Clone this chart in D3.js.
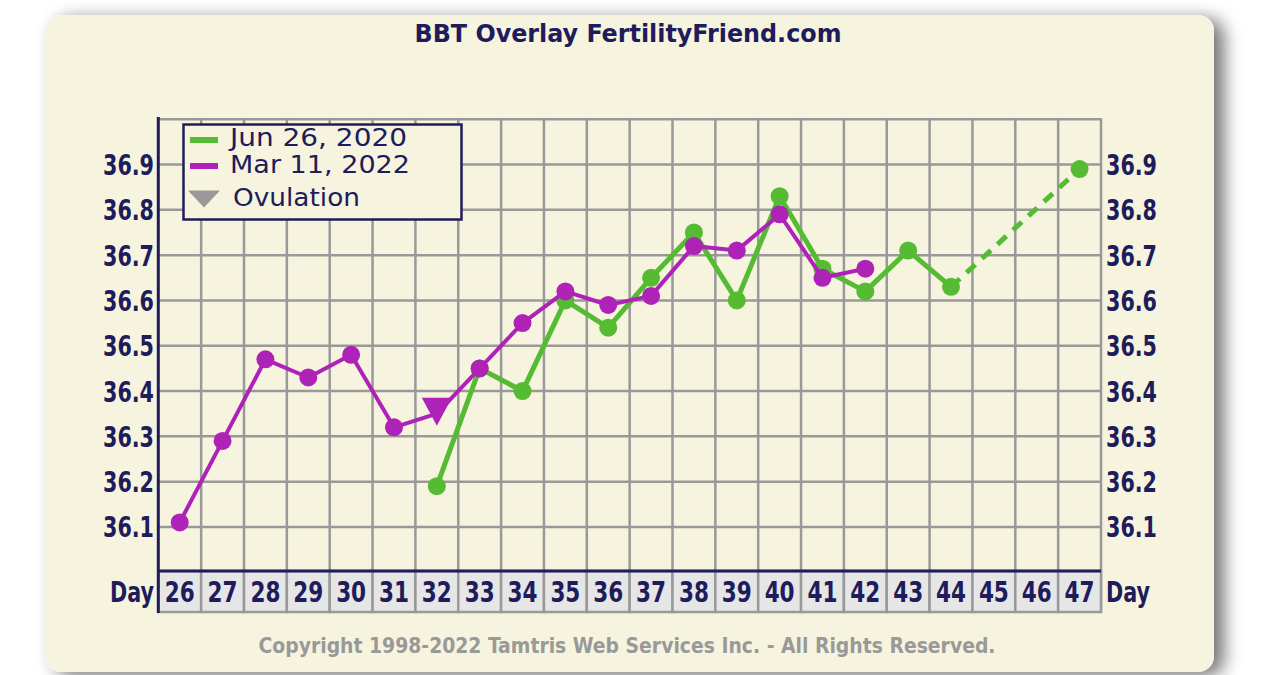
<!DOCTYPE html>
<html><head><meta charset="utf-8">
<script src="https://cdn.jsdelivr.net/npm/d3@7"></script>
<style>
html,body{margin:0;padding:0;background:#fff;}
svg{display:block;}
</style></head>
<body>
<script>
// ---- data ----
const days = [26,27,28,29,30,31,32,33,34,35,36,37,38,39,40,41,42,43,44,45,46,47];
const yTicks = [36.1,36.2,36.3,36.4,36.5,36.6,36.7,36.8,36.9];
const marDays  = [26,27,28,29,30,31,32,33,34,35,36,37,38,39,40,41,42];
const marTemps = [36.11,36.29,36.47,36.43,36.48,36.32,36.35,36.45,36.55,36.62,36.59,36.61,36.72,36.71,36.79,36.65,36.67];
const ovulationDay = 32;
const junDays  = [32,33,34,35,36,37,38,39,40,41,42,43,44];
const junTemps = [36.19,36.45,36.40,36.60,36.54,36.65,36.75,36.60,36.83,36.67,36.62,36.71,36.63];
const junDashDays  = [44,47];
const junDashTemps = [36.63,36.89];
const legendLabels = ["Jun 26, 2020","Mar 11, 2022","Ovulation"];
const title = "BBT Overlay FertilityFriend.com";
const copyright = "Copyright 1998-2022 Tamtris Web Services Inc. - All Rights Reserved.";

const W=1284,H=675;
const navy="#201c5c", green="#55bb33", purple="#ae22b8", grid="#999999", bg="#f6f4de";
const svg=d3.select("body").append("svg").attr("width",W).attr("height",H);
const defs=svg.append("defs");
const f=defs.append("filter").attr("id","sh").attr("x","-10%").attr("y","-10%").attr("width","130%").attr("height","130%");
f.append("feGaussianBlur").attr("in","SourceAlpha").attr("stdDeviation",9);
f.append("feOffset").attr("dx",10).attr("dy",4).attr("result","b");
f.append("feComponentTransfer").append("feFuncA").attr("type","linear").attr("slope",0.55);
const m=f.append("feMerge");m.append("feMergeNode");m.append("feMergeNode").attr("in","SourceGraphic");

svg.append("rect").attr("x",45).attr("y",15).attr("width",1169).attr("height",657).attr("rx",16)
  .attr("fill",bg).attr("filter","url(#sh)");

const x0=158.3, x1=1101;
const x=d3.scaleBand().domain(days).range([x0,x1]).padding(0);
const xc=d=>x(d)+x.bandwidth()/2;
const y=d3.scaleLinear().domain([36.0,37.0]).range([572.3,119.2]);

const fontB="'DejaVu Sans Condensed','DejaVu Sans',sans-serif";

// title
svg.append("text").attr("x",628).attr("y",42).attr("text-anchor","middle")
  .attr("font-family",fontB).attr("font-weight","bold").attr("font-size",25).attr("fill",navy)
  .attr("textLength",427).attr("lengthAdjust","spacingAndGlyphs").text(title);

// grid
const g=svg.append("g");
g.selectAll(".hl").data(yTicks.concat([37.0])).join("line")
  .attr("x1",x0).attr("x2",x1).attr("y1",d=>y(d)).attr("y2",d=>y(d))
  .attr("stroke",grid).attr("stroke-width",2.5);
g.selectAll(".vl").data(days.slice(1)).join("line")
  .attr("x1",d=>x(d)).attr("x2",d=>x(d)).attr("y1",y(37.0)).attr("y2",571)
  .attr("stroke",grid).attr("stroke-width",2.5);
g.append("line").attr("x1",x1).attr("x2",x1).attr("y1",y(37.0)-1).attr("y2",612).attr("stroke",grid).attr("stroke-width",2.5);

// day boxes
const bx=svg.append("g");
bx.selectAll("rect").data(days).join("rect")
  .attr("x",d=>x(d)).attr("y",571).attr("width",x.bandwidth()).attr("height",41)
  .attr("fill","#e6e6e6").attr("stroke",grid).attr("stroke-width",2.5);
bx.selectAll("text").data(days).join("text")
  .attr("x",d=>xc(d)).attr("y",602).attr("text-anchor","middle")
  .attr("font-family",fontB).attr("font-weight","bold").attr("font-size",28).attr("fill",navy)
  .attr("textLength",30).attr("lengthAdjust","spacingAndGlyphs")
  .text(d=>d);
svg.append("line").attr("x1",x0).attr("x2",x1).attr("y1",571).attr("y2",571).attr("stroke",navy).attr("stroke-width",3);
svg.append("line").attr("x1",x0).attr("x2",x0).attr("y1",117).attr("y2",613).attr("stroke",navy).attr("stroke-width",3);
svg.append("text").attr("x",154).attr("y",602).attr("text-anchor","end")
  .attr("font-family",fontB).attr("font-weight","bold").attr("font-size",28).attr("fill",navy)
  .attr("textLength",44).attr("lengthAdjust","spacingAndGlyphs").text("Day");
svg.append("text").attr("x",1106).attr("y",602).attr("text-anchor","start")
  .attr("font-family",fontB).attr("font-weight","bold").attr("font-size",28).attr("fill",navy)
  .attr("textLength",44).attr("lengthAdjust","spacingAndGlyphs").text("Day");

// y labels
const yl=svg.append("g").attr("font-family",fontB).attr("font-weight","bold").attr("font-size",28).attr("fill",navy);
yl.selectAll(".l").data(yTicks).join("text").attr("x",154).attr("y",d=>y(d)+10.5).attr("text-anchor","end")
  .attr("textLength",51).attr("lengthAdjust","spacingAndGlyphs").text(d=>d.toFixed(1));
yl.selectAll(".r").data(yTicks).join("text").attr("x",1106).attr("y",d=>y(d)+10.5).attr("text-anchor","start")
  .attr("textLength",51).attr("lengthAdjust","spacingAndGlyphs").text(d=>d.toFixed(1));

// lines
const line=d3.line().x(d=>xc(d[0])).y(d=>y(d[1]));
const jun=junDays.map((d,i)=>[d,junTemps[i]]);
const junDash=junDashDays.map((d,i)=>[d,junDashTemps[i]]);
const mar=marDays.map((d,i)=>[d,marTemps[i]]);
svg.append("path").attr("d",line(junDash)).attr("fill","none").attr("stroke",green).attr("stroke-width",5).attr("stroke-dasharray","12,9");
svg.append("path").attr("d",line(jun)).attr("fill","none").attr("stroke",green).attr("stroke-width",5).attr("stroke-linejoin","round");
svg.selectAll(".jp").data(jun.concat([junDash[1]])).join("circle")
  .attr("cx",d=>xc(d[0])).attr("cy",d=>y(d[1])).attr("r",9).attr("fill",green);
svg.append("path").attr("d",line(mar)).attr("fill","none").attr("stroke",purple).attr("stroke-width",4).attr("stroke-linejoin","round");
svg.selectAll(".mp").data(mar.filter(d=>d[0]!==ovulationDay)).join("circle")
  .attr("cx",d=>xc(d[0])).attr("cy",d=>y(d[1])).attr("r",9).attr("fill",purple);
const ov=mar.find(d=>d[0]===ovulationDay);
const tri=(cx,cy,w,h)=>`M${cx-w/2},${cy-h/2}L${cx+w/2},${cy-h/2}L${cx},${cy+h/2}Z`;
svg.append("path").attr("d",tri(xc(ov[0]),y(ov[1])-2,30,28)).attr("fill",purple);

// legend
const lg=svg.append("g");
lg.append("rect").attr("x",183.5).attr("y",124.5).attr("width",278).attr("height",95)
  .attr("fill",bg).attr("stroke",navy).attr("stroke-width",2.5);
lg.append("rect").attr("x",190).attr("y",137).attr("width",28).attr("height",6).attr("fill",green);
lg.append("rect").attr("x",190).attr("y",163).attr("width",28).attr("height",6).attr("fill",purple);
lg.append("path").attr("d",tri(204,199,32,17)).attr("fill","#999999");
const lt=lg.append("g").attr("font-family","'DejaVu Sans',Verdana,sans-serif").attr("font-size",25).attr("fill",navy);
lt.append("text").attr("x",230).attr("y",146).attr("textLength",177).attr("lengthAdjust","spacingAndGlyphs").text(legendLabels[0]);
lt.append("text").attr("x",230).attr("y",173).attr("textLength",180).attr("lengthAdjust","spacingAndGlyphs").text(legendLabels[1]);
lt.append("text").attr("x",233).attr("y",206).attr("textLength",127).attr("lengthAdjust","spacingAndGlyphs").text(legendLabels[2]);

// copyright
svg.append("text").attr("x",627).attr("y",653).attr("text-anchor","middle")
  .attr("font-family",fontB).attr("font-weight","bold").attr("font-size",22).attr("fill","#999999")
  .attr("textLength",737).attr("lengthAdjust","spacingAndGlyphs").text(copyright);
</script>
</body></html>
